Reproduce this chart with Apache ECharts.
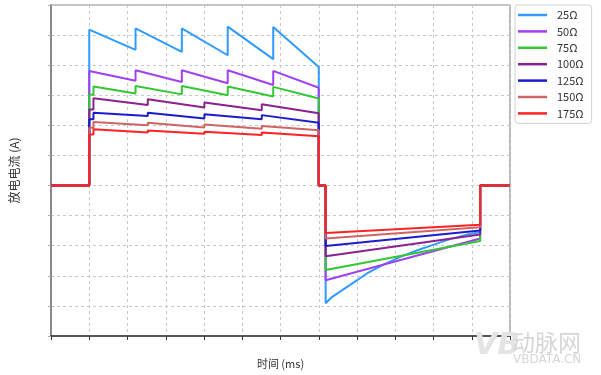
<!DOCTYPE html>
<html>
<head>
<meta charset="utf-8">
<script src="https://cdn.jsdelivr.net/npm/echarts@6/dist/echarts.min.js"></script>
<style>
html,body{margin:0;padding:0;background:#fff;}
#c{width:601px;height:375px;}
</style>
</head>
<body>
<div id="c"></div>
<script>
// Legend / series names
const seriesNames = ['25Ω','50Ω','75Ω','100Ω','125Ω','150Ω','175Ω'];
const seriesColors = ['#2f9bff','#a040f0','#33c833','#8b2290','#1c1ccc','#d06464','#ff2222'];

// Shared segments (x in grid units of time, y in grid units of current)
const before = [[0,0],[1,0]];
const after = [[11.22,0],[12,0]];

// Positive pulse
const pulse25 = [[1,5.18],[2.21,4.51],[2.21,5.22],[3.42,4.44],[3.42,5.22],[4.62,4.33],[4.62,5.28],[5.81,4.2],[5.81,5.27],[7,3.94]];
const pulse50 = [[1,3.81],[2.21,3.48],[2.21,3.83],[3.42,3.44],[3.42,3.83],[4.62,3.4],[4.62,3.83],[5.81,3.34],[5.81,3.81],[7,3.25]];
const pulse75 = [[1,3.03],[1.11,3.01],[1.11,3.29],[2.21,3.06],[2.21,3.31],[3.42,3.03],[3.42,3.31],[4.62,3.0],[4.62,3.29],[5.81,2.96],[5.81,3.28],[7,2.89]];
const pulse100 = [[1,2.53],[1.11,2.53],[1.11,2.9],[2.53,2.68],[2.53,2.87],[4.01,2.59],[4.01,2.76],[5.51,2.5],[5.51,2.7],[7,2.4]];
const pulse125 = [[1,2.2],[1.11,2.2],[1.11,2.42],[2.53,2.31],[2.53,2.42],[4.01,2.23],[4.01,2.37],[5.51,2.2],[5.51,2.34],[7,2.09]];
const pulse150 = [[1,1.92],[1.11,1.92],[1.11,2.11],[2.53,2.0],[2.53,2.09],[4.01,1.93],[4.01,2.03],[5.51,1.89],[5.51,1.98],[7,1.84]];
const pulse175 = [[1,1.7],[1.11,1.7],[1.11,1.87],[2.53,1.76],[2.53,1.83],[4.01,1.72],[4.01,1.79],[5.51,1.68],[5.51,1.76],[7,1.64]];

// Negative (recharge) part
const neg25 = [[7.18,-3.91],[7.34,-3.71],[7.47,-3.6],[7.82,-3.3],[8.25,-2.93],[8.69,-2.63],[9.12,-2.38],[9.56,-2.16],[9.99,-1.97],[10.43,-1.78],[10.87,-1.63],[11.22,-1.55]];
const neg50 = [[7.18,-3.15],[11.22,-1.76]];
const neg75 = [[7.18,-2.81],[11.22,-1.84]];
const neg100 = [[7.18,-2.35],[11.22,-1.63]];
const neg125 = [[7.18,-2.01],[11.22,-1.49]];
const neg150 = [[7.18,-1.76],[11.22,-1.39]];
const neg175 = [[7.18,-1.58],[11.22,-1.3]];

const pulses = [pulse25,pulse50,pulse75,pulse100,pulse125,pulse150,pulse175];
const negs = [neg25,neg50,neg75,neg100,neg125,neg150,neg175];

function build(p, n){
  return before.concat(p, [[7,0],[7.18,0]], n, after);
}

const chart = echarts.init(document.getElementById('c'), null, {renderer:'canvas'});
const series = seriesNames.map((nm,i)=>({
  name: nm,
  type: 'line',
  data: build(pulses[i], negs[i]),
  symbol: 'none',
  lineStyle: {color: seriesColors[i], width: 2},
  itemStyle: {color: seriesColors[i]},
  animation: false,
  z: 2 + i
}));

chart.setOption({
  animation: false,
  textStyle: {fontFamily: '"Noto Sans CJK SC", "Noto Sans", sans-serif'},
  grid: {left: 51, top: 5, width: 459, height: 331, show: true, borderColor: '#8a8a8a', borderWidth: 1.2, backgroundColor: 'transparent'},
  xAxis: {
    type: 'value', min: 0, max: 12, interval: 1,
    name: '时间 (ms)', nameLocation: 'middle', nameGap: 22,
    nameTextStyle: {color: '#333', fontSize: 11},
    axisLine: {show: true, onZero: false, lineStyle: {color: '#333', width: 1.5}},
    axisTick: {show: true, length: 4, lineStyle: {color: '#333'}},
    axisLabel: {show: false},
    splitLine: {show: true, lineStyle: {color: '#c8c8c8', type: [3,3], width: 1}}
  },
  yAxis: {
    type: 'value', min: -5, max: 6, interval: 1,
    name: '放电电流 (A)', nameLocation: 'middle', nameGap: 31, nameRotate: 90,
    nameTextStyle: {color: '#333', fontSize: 12},
    axisLine: {show: true, onZero: false, lineStyle: {color: '#777', width: 1.5}},
    axisTick: {show: true, length: 3, lineStyle: {color: '#aaa'}},
    axisLabel: {show: false},
    splitLine: {show: true, lineStyle: {color: '#c8c8c8', type: [3,3], width: 1}}
  },
  legend: {
    orient: 'vertical', left: 515, top: 5,
    data: seriesNames,
    icon: 'rect',
    itemWidth: 29, itemHeight: 2.5, itemGap: 3.4,
    padding: [3.5, 8, 3.5, 3],
    backgroundColor: '#fff', borderColor: '#d0d0d0', borderWidth: 1, borderRadius: 3,
    textStyle: {color: '#333', fontSize: 11, lineHeight: 13, padding: [0,0,0,5]}
  },
  graphic: [
    {type: 'text', left: 474, top: 331, z: 100, style: {text: 'VB', fill: '#e4e4e4', font: 'bold italic 30px "DejaVu Sans"'}},
    {type: 'text', left: 512, top: 331, z: 100, style: {text: '动脉网', fill: '#d6d6d6', font: '23px "Noto Sans CJK SC"'}},
    {type: 'text', left: 513, top: 354, z: 100, style: {text: 'VBDATA.CN', fill: '#d6d6d6', font: '12px "DejaVu Sans"'}}
  ],
  series: series
});
</script>
</body>
</html>
